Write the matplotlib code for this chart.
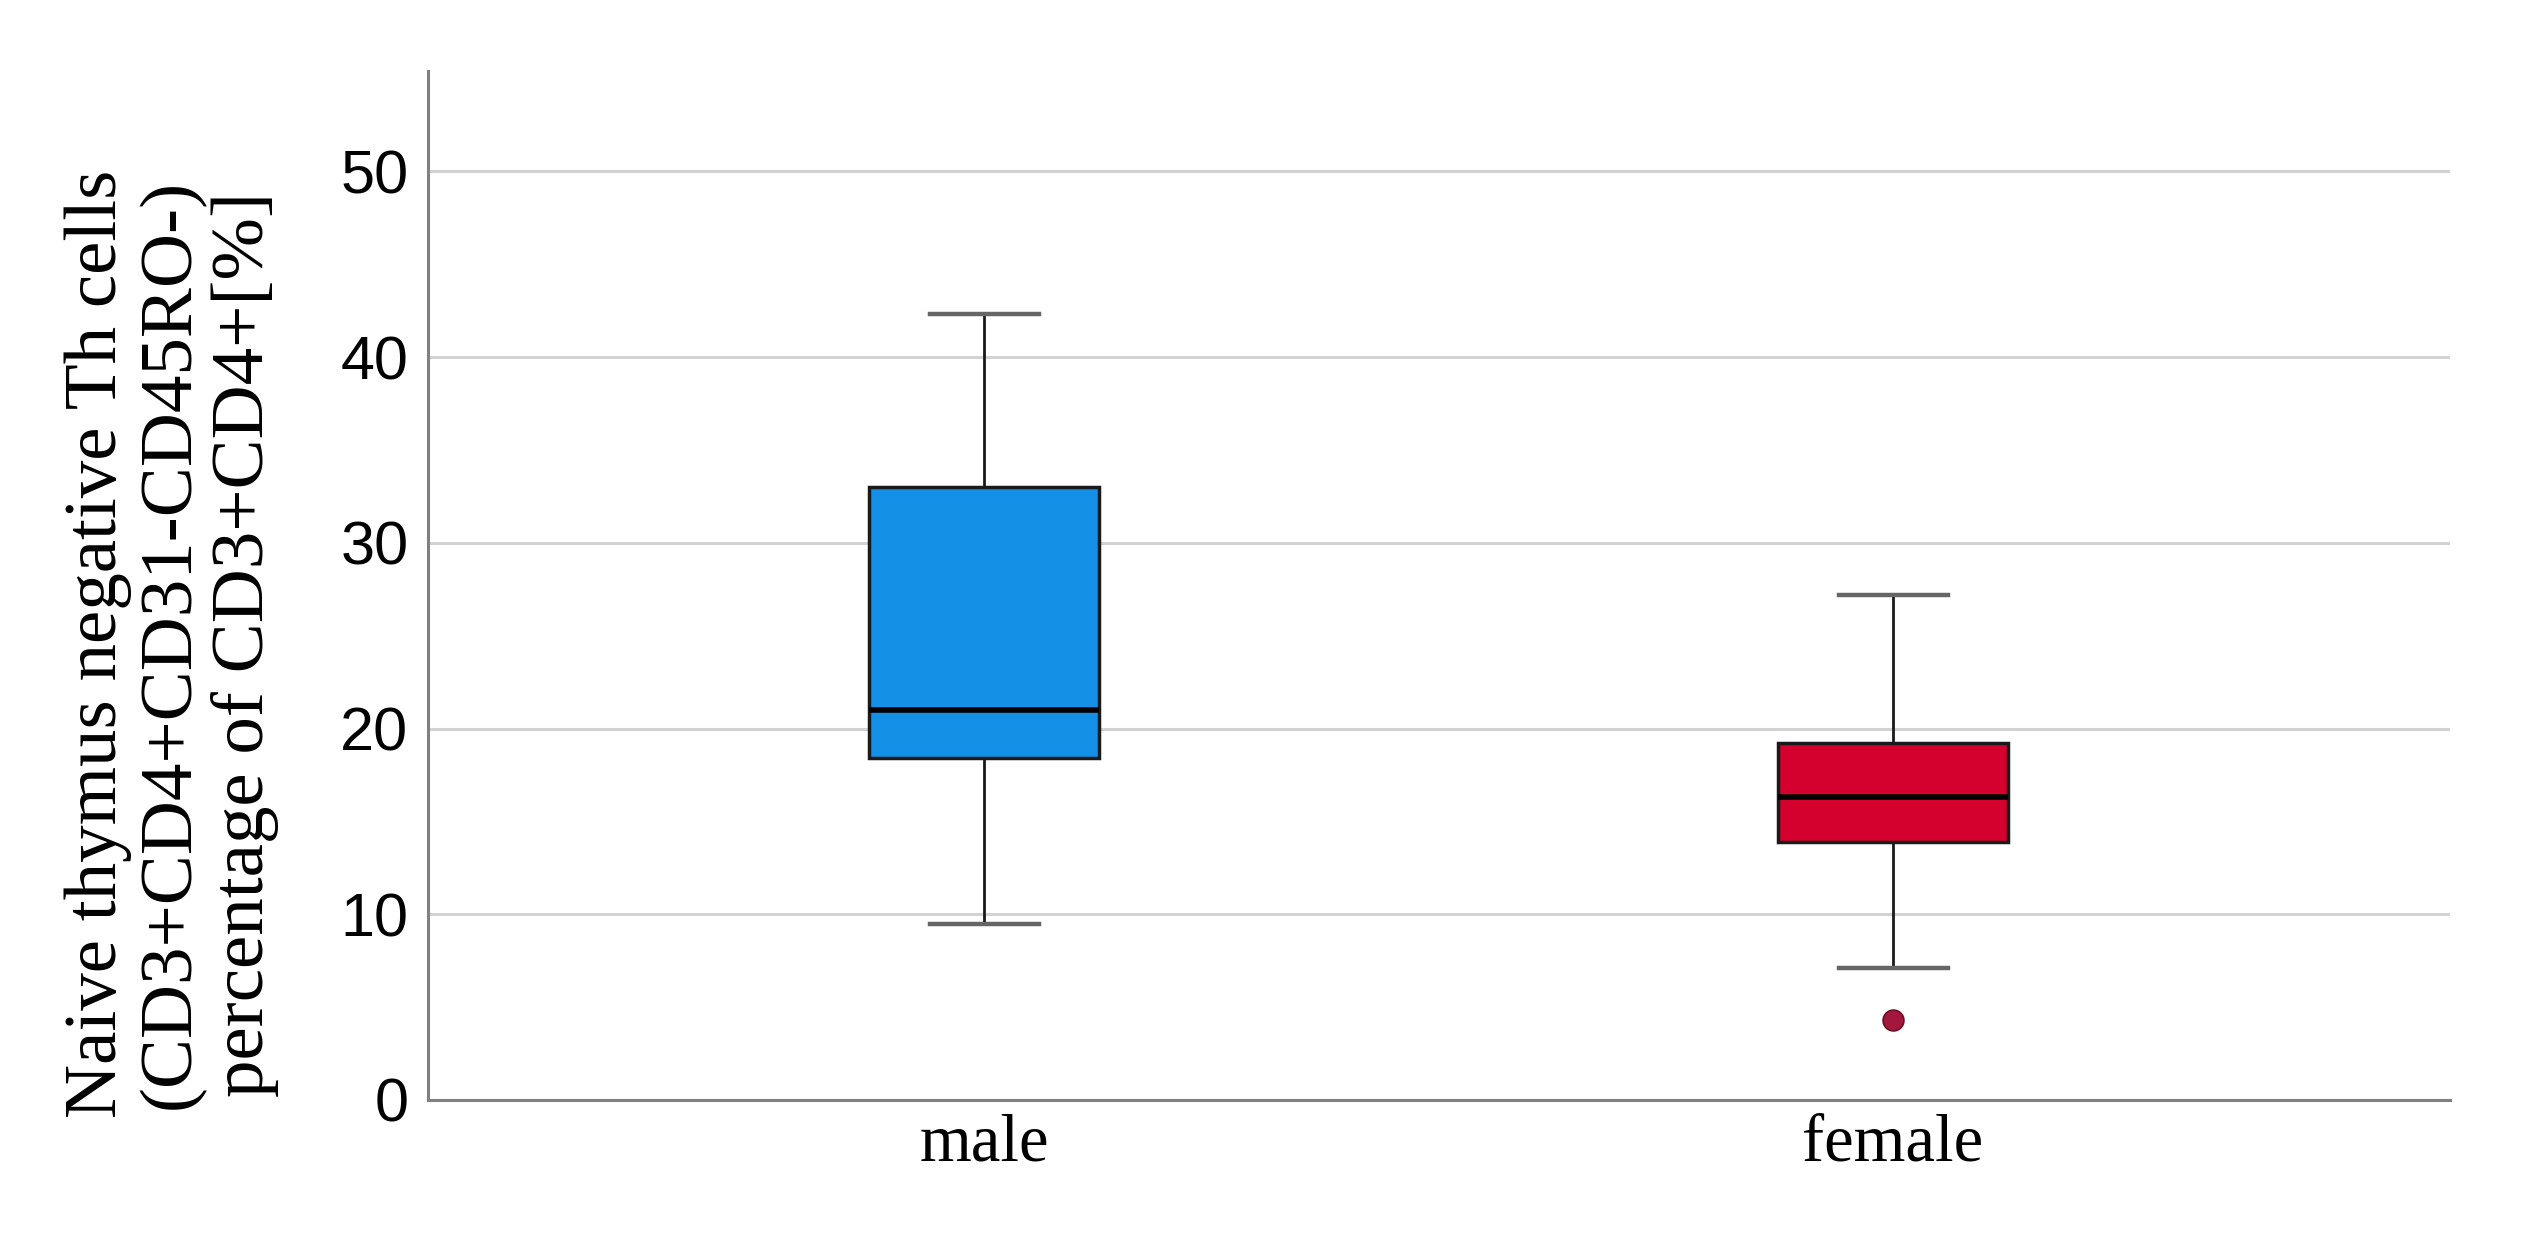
import matplotlib
matplotlib.use("Agg")
import matplotlib.pyplot as plt

# box statistics (percent)
groups = ["male", "female"]
whisker_low = [9.5, 7.1]
q1 = [18.4, 13.9]
median = [21.0, 16.3]
q3 = [33.0, 19.2]
whisker_high = [42.3, 27.2]
outliers = [[], [4.3]]

y_ticks = [0, 10, 20, 30, 40, 50]
box_colors = ["#1490E6", "#D4002E"]
flier_color = "#A3173C"

stats = []
for i, name in enumerate(groups):
    stats.append({
        "label": name,
        "whislo": whisker_low[i],
        "q1": q1[i],
        "med": median[i],
        "q3": q3[i],
        "whishi": whisker_high[i],
        "fliers": outliers[i],
    })

fig = plt.figure(figsize=(25.26, 12.39), dpi=100)
ax = fig.add_axes([0.1694, 0.1122, 0.8006, 0.8305])

ax.set_axisbelow(True)
ax.yaxis.grid(True, color="#d2d2d2", linewidth=2.2)

bp = ax.bxp(stats, positions=[1, 2], widths=0.253, capwidths=0.12,
            patch_artist=True, showfliers=True,
            boxprops=dict(edgecolor="#1a1a1a", linewidth=2.5),
            medianprops=dict(color="black", linewidth=4.0),
            whiskerprops=dict(color="#1a1a1a", linewidth=2.0),
            capprops=dict(color="#666666", linewidth=3.2),
            flierprops=dict(marker="o", markersize=15, markerfacecolor=flier_color,
                            markeredgecolor="#6a0f25", markeredgewidth=1.2))
for patch, c in zip(bp["boxes"], box_colors):
    patch.set_facecolor(c)

ax.set_xlim(0.388, 2.613)
ax.set_ylim(0, 55.4)
ax.set_yticks(y_ticks)
ax.set_yticklabels([str(t) for t in y_ticks], family="Liberation Sans", fontsize=44)
ax.set_xticks([1, 2])
ax.set_xticklabels(groups, family="Liberation Serif", fontsize=48)
ax.tick_params(axis="y", length=0, pad=14)
ax.tick_params(axis="x", length=0, pad=10)

for side in ["top", "right"]:
    ax.spines[side].set_visible(False)
for side in ["left", "bottom"]:
    ax.spines[side].set_color("#808080")
    ax.spines[side].set_linewidth(2.2)

fig.text(0.068, 0.48,
         "Naive thymus negative Th cells\n(CD3+CD4+CD31-CD45RO-)\npercentage of CD3+CD4+[%]",
         rotation=90, ha="center", va="center", multialignment="center",
         family="Liberation Serif", fontsize=54, linespacing=1.12)

fig.savefig("out.png", dpi=100)
